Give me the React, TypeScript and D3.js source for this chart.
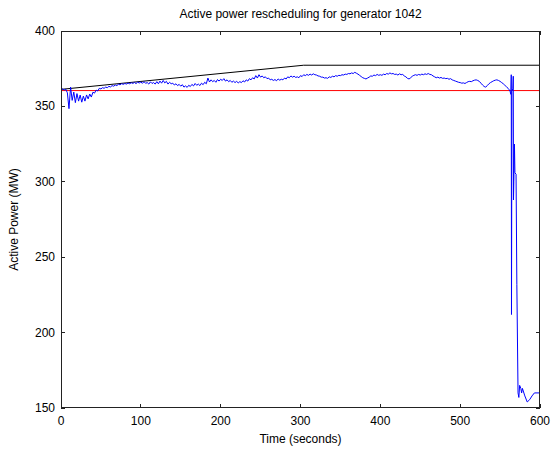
import React from "react";
import * as d3 from "d3";

const TITLE = "Active power rescheduling for generator 1042";
const X_LABEL = "Time (seconds)";
const Y_LABEL = "Active Power (MW)";
const X_TICKS = [0, 100, 200, 300, 400, 500, 600];
const Y_TICKS = [150, 200, 250, 300, 350, 400];

// black: scheduled set-point ramp
const SCHED_T = [0, 304, 600];
const SCHED_V = [361.3, 377.3, 377.3];
// red: reference level
const REF_T = [0, 600];
const REF_V = [360.5, 360.5];

// blue: measured power, 2 s samples from 0 to 560
const MEAS_STEP = 2;
const MEAS_V = [
  361.0, 361.6, 360.8, 361.4, 359.0, 348.5, 362.8, 354.0, 359.5, 352.5,
  358.5, 353.5, 357.5, 352.8, 356.8, 353.5, 357.6, 355.0, 358.2, 356.2,
  359.4, 358.8, 360.8, 360.2, 362.0, 361.6, 362.4, 362.0, 362.8, 362.4,
  363.3, 362.9, 363.8, 363.4, 364.2, 363.8, 364.7, 364.3, 365.1, 364.6,
  365.2, 364.8, 365.5, 365.0, 365.7, 365.2, 365.9, 365.1, 366.1, 365.5,
  366.2, 365.3, 366.4, 365.3, 365.8, 364.8, 366.3, 365.2, 365.8, 364.8,
  366.4, 365.0, 366.8, 365.4, 367.2, 365.6, 366.6, 364.8, 366.0, 365.0,
  365.4, 364.2, 365.0, 363.8, 364.6, 363.4, 364.4, 362.8, 363.6, 362.6,
  364.0, 363.2, 364.6, 363.6, 365.2, 364.0, 364.8, 363.8, 365.4, 364.4,
  366.0, 365.0, 368.8, 366.2, 367.6, 366.4, 367.2, 366.0, 367.8, 366.8,
  368.0, 367.2, 368.4, 366.8, 367.6, 366.4, 367.2, 366.0, 366.8, 365.8,
  366.6, 365.6, 366.4, 365.8, 367.0, 366.2, 367.6, 366.8, 368.4, 367.6,
  369.0, 368.2, 370.4, 368.8, 371.0, 369.4, 370.2, 369.0, 369.6, 368.4,
  368.8, 367.6, 368.0, 367.2, 367.8, 367.0, 368.2, 367.4, 368.0, 367.6,
  368.8, 368.2, 369.6, 369.0, 370.2, 369.4, 370.0, 369.2, 369.6, 369.0,
  370.4, 369.8, 371.0, 370.4, 371.2, 370.6, 371.4, 370.8, 371.6, 371.0,
  370.8, 370.2, 370.0, 369.4, 369.4, 368.8, 369.0, 368.6, 369.6, 369.2,
  370.0, 369.6, 370.4, 370.0, 370.6, 370.4, 371.0, 370.8, 371.4, 371.2,
  371.8, 371.6, 372.2, 371.8, 372.6, 372.0, 371.4, 370.6, 369.8, 369.0,
  368.6, 368.2, 368.8, 369.4, 370.2, 370.0, 370.8, 370.4, 371.2, 370.6,
  371.0, 370.6, 371.4, 371.0, 371.8, 371.4, 372.2, 371.6, 371.8, 371.2,
  371.4, 370.8, 371.6, 371.0, 371.2, 370.2, 369.6, 368.6, 368.2, 369.0,
  370.0, 370.6, 371.0, 370.6, 371.2, 370.8, 371.4, 371.0, 371.6, 371.2,
  371.8, 371.2, 371.0, 370.2, 369.6, 369.0, 369.4, 368.8, 369.2, 368.6,
  368.8, 368.4, 368.6, 368.0, 368.4, 367.6, 367.2, 366.8, 366.4, 366.0,
  365.8, 365.4, 365.6, 365.2, 365.8, 366.4, 366.6, 366.4, 367.0, 367.4,
  367.6, 367.2, 366.6, 365.4, 364.2, 363.2, 362.8, 363.8, 365.0, 365.8,
  366.4, 367.0, 367.4, 367.6, 367.2, 366.6, 365.8, 365.0, 364.0, 363.0,
  362.0,
];

// blue: trip transient after 560 s
const TRIP_T = [
  561.5, 562.5, 563.5, 564.0, 564.3, 564.8, 566.0, 566.5, 566.8, 567.2,
  568.0, 568.6, 570.0, 571.0, 572.5, 573.5, 574.5, 576.0, 577.0, 578.0,
  581.0, 584.0, 587.0, 590.0, 593.0, 600.0,
];
const TRIP_V = [
  361.0, 360.0, 358.0, 371.0, 212.0, 360.0, 362.0, 370.0, 288.0, 300.0,
  325.0, 306.0, 305.0, 232.0, 160.0, 157.0, 165.0, 163.0, 160.0, 163.0,
  158.0, 154.0, 155.5, 158.0, 160.0, 160.0,
];

const W = 552;
const H = 449;
const L = 61;
const R = 540;
const T = 31;
const B = 408;
const FONT = "'Liberation Sans', Arial, Helvetica, sans-serif";

export default function App() {
  const x = d3.scaleLinear().domain([0, 600]).range([L, R]);
  const y = d3.scaleLinear().domain([150, 400]).range([B, T]);
  const line = d3
    .line<[number, number]>()
    .x((d) => x(d[0]))
    .y((d) => y(d[1]));

  const sched: [number, number][] = SCHED_T.map((t, i) => [t, SCHED_V[i]]);
  const ref: [number, number][] = REF_T.map((t, i) => [t, REF_V[i]]);
  const meas: [number, number][] = MEAS_V.map((v, i) => [i * MEAS_STEP, v] as [number, number]).concat(
    TRIP_T.map((t, i) => [t, TRIP_V[i]] as [number, number])
  );

  const tl = 4;
  return (
    <svg width={W} height={H} style={{ display: "block", position: "absolute", left: 0, top: 0, background: "#fff" }}>
      <rect x={0} y={0} width={W} height={H} fill="#fff" />
      <defs>
        <clipPath id="plot">
          <rect x={L} y={T} width={R - L} height={B - T} />
        </clipPath>
      </defs>
      <g clipPath="url(#plot)" fill="none" strokeWidth={1}>
        <path d={line(ref) || ""} stroke="#ff0000" />
        <path d={line(sched) || ""} stroke="#000000" />
        <path d={line(meas) || ""} stroke="#0000ff" strokeLinejoin="round" />
      </g>
      <g shapeRendering="crispEdges" stroke="#222" strokeWidth={1}>
        <rect x={L + 0.5} y={T + 0.5} width={R - L - 1} height={B - T - 1} fill="none" />
        {X_TICKS.map((t) => (
          <g key={"xt" + t}>
            <line x1={x(t)} x2={x(t)} y1={B} y2={B - tl} />
            <line x1={x(t)} x2={x(t)} y1={T} y2={T + tl} />
          </g>
        ))}
        {Y_TICKS.map((v) => (
          <g key={"yt" + v}>
            <line x1={L} x2={L + tl} y1={y(v)} y2={y(v)} />
            <line x1={R} x2={R - tl} y1={y(v)} y2={y(v)} />
          </g>
        ))}
      </g>
      <g fontFamily={FONT} fontSize={12} fill="#000">
        {X_TICKS.map((t) => (
          <text key={"xl" + t} x={x(t)} y={B + 17} textAnchor="middle">
            {t}
          </text>
        ))}
        {Y_TICKS.map((v) => (
          <text key={"yl" + v} x={L - 6} y={y(v) + 4} textAnchor="end">
            {v}
          </text>
        ))}
        <text x={(L + R) / 2} y={B + 35} textAnchor="middle">
          {X_LABEL}
        </text>
        <text transform={`translate(${L - 43},${(T + B) / 2}) rotate(-90)`} textAnchor="middle">
          {Y_LABEL}
        </text>
        <text x={(L + R) / 2} y={T - 13} textAnchor="middle" fontSize={12}>
          {TITLE}
        </text>
      </g>
    </svg>
  );
}
